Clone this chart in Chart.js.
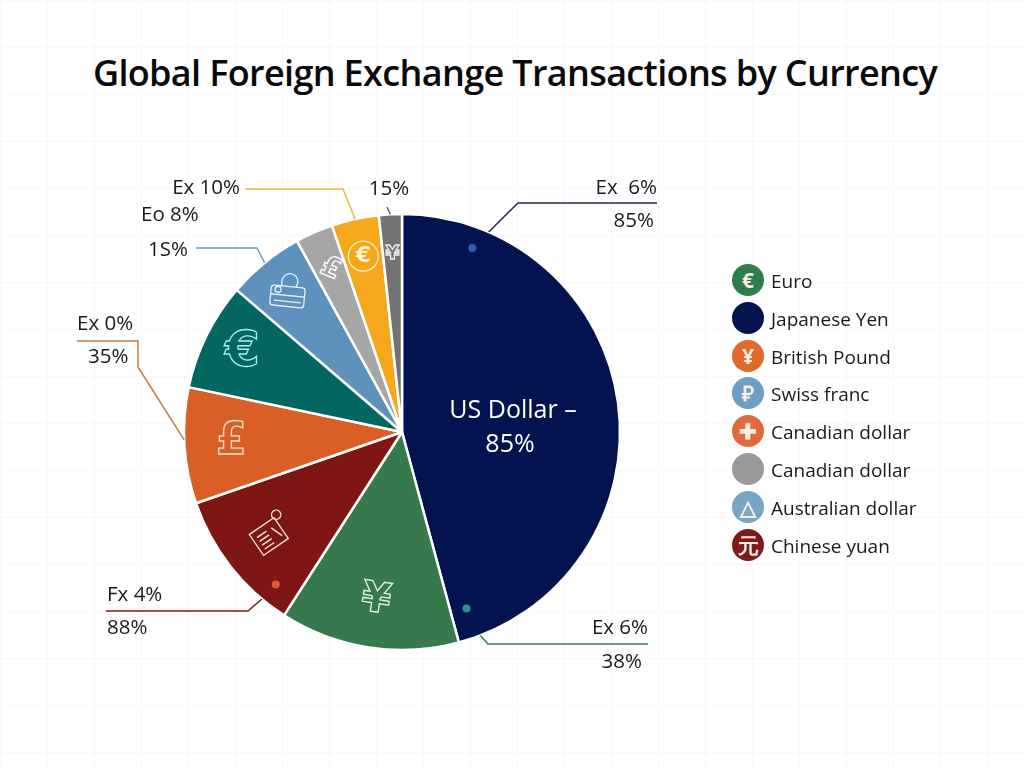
<!DOCTYPE html>
<html>
<head>
<meta charset="utf-8">
<title>Global Foreign Exchange Transactions by Currency</title>
<script src="https://cdn.jsdelivr.net/npm/chart.js@4"></script>
<style>
    html, body { margin: 0; padding: 0; width: 1024px; height: 768px; overflow: hidden; }
    body {
        background-color: #fff;
        background-image: linear-gradient(#f8f8f8 1px, transparent 1px), linear-gradient(90deg, #f8f8f8 1px, transparent 1px);
        background-size: 47px 47px;
        font-family: "Open Sans", sans-serif;
    }
    #chart { position: absolute; left: 0; top: 0; }
    h1 {
        position: absolute; left: 0; top: 48px; width: 1030px; margin: 0;
        text-align: center; font-size: 36px; line-height: 50px; font-weight: 600;
        letter-spacing: -0.65px; color: #0a0a0a;
    }
    #legend { position: absolute; left: 732px; top: 264px; margin: 0; padding: 0; list-style: none; }
    #legend li { position: relative; height: 37.8px; line-height: 34px; padding-left: 39px; font-size: 19px; color: #1a1a1a; white-space: nowrap; }
    #legend .dot {
        position: absolute; left: 0; top: 0; width: 32px; height: 32px; border-radius: 50%;
        text-align: center; color: #fbeee0; font-size: 21px; line-height: 32px; font-weight: 700;
    }
</style>
</head>
<body>
<h1>Global Foreign Exchange Transactions by Currency</h1>
<canvas id="chart" width="1024" height="768"></canvas>
<ul id="legend"></ul>
<script>
const sliceNames = ['US Dollar', 'Euro', 'Chinese yuan', 'British Pound', 'Japanese Yen', 'Swiss franc', 'Canadian dollar', 'Australian dollar', 'Other'];
const sliceValues = [45.8, 13.3, 10.6, 8.6, 8.0, 5.7, 2.8, 3.5, 1.7];
const sliceColors = ['#03134f', '#37794c', '#7e1713', '#d95f26', '#046660', '#5e92bd', '#a6a6a6', '#f5a81c', '#737373'];

const legendNames = ['Euro', 'Japanese Yen', 'British Pound', 'Swiss franc', 'Canadian dollar', 'Canadian dollar', 'Australian dollar', 'Chinese yuan'];
const legendColors = ['#2f7d4f', '#03134f', '#df6a2d', '#6b9fc4', '#df6a3c', '#9a9a9a', '#76a5c6', '#7e1a1a'];
const legendGlyphs = ['€', '', '¥', '₽', '✚', '', '△', '元'];

// slice: which arc the leader leaves from, at: how far through that arc
const callouts = [
    { slice: 0, at: 0.142, color: '#1f2a4a', path: [[518, 203], [657, 203]], texts: [['Ex  6%', 657, 188, 'right'], ['85%', 654, 221, 'right']] },
    { slice: 0, at: 0.964, color: '#3a7d4f', path: [[488, 644], [648, 644]], texts: [['Ex 6%', 648, 628, 'right'], ['38%', 642, 662, 'right']] },
    { slice: 2, at: 0.19, color: '#7c1a14', path: [[248, 611], [106, 611]], texts: [['Fx 4%', 107, 595, 'left'], ['88%', 107, 628, 'left']] },
    { slice: 3, at: 0.55, color: '#c07a4a', path: [[138, 367], [138, 341], [77, 341]], texts: [['Ex 0%', 77, 324, 'left'], ['35%', 88, 357, 'left']] },
    { slice: 5, at: 0.5, color: '#6b9bbd', path: [[257, 248], [196, 248]], texts: [['1S%', 148, 250, 'left']] },
    { slice: 6, at: 0, color: null, path: [], texts: [['Eo 8%', 141, 215, 'left']] },
    { slice: 7, at: 0.5, color: '#f0b840', path: [[343, 189], [245, 189]], texts: [['Ex 10%', 240, 188, 'right']] },
    { slice: 8, at: 0.5, color: '#666666', path: [[387, 207]], texts: [['15%', 389, 189, 'center']] }
];

const markerDots = [
    { slice: 0, at: 0.127, dist: 197, color: '#2e5cae' },
    { slice: 0, at: 0.97, dist: 188, color: '#2f8f8f' },
    { slice: 2, at: 0.18, dist: 198, color: '#e0592a' }
];

const sliceIcons = [
    { slice: 1, dist: 171, glyph: '¥', size: 42, color: '#dff0e2', rot: 0.15 },
    { slice: 2, dist: 167, draw: 'scroll', color: '#f5e3da', rot: -0.6 },
    { slice: 3, dist: 171, glyph: '£', size: 44, color: '#f7e3c8', rot: 0 },
    { slice: 4, dist: 178, glyph: '€', size: 50, color: '#a8ebe4', rot: 0 },
    { slice: 5, dist: 181, draw: 'bag', color: '#e8f1f8', rot: 0.1 },
    { slice: 6, dist: 178, glyph: '£', size: 28, color: '#ffffff', rot: 0.4 },
    { slice: 7, dist: 180, glyph: '€', size: 22, color: '#fff2d0', rot: 0, ring: 15, solid: true },
    { slice: 8, dist: 178, glyph: '¥', size: 20, color: '#eeeeee', rot: 0 }
];

function arcPoint(arc, frac, dist) {
    const a = arc.startAngle + frac * (arc.endAngle - arc.startAngle);
    return [arc.x + dist * Math.cos(a), arc.y + dist * Math.sin(a)];
}

function drawScroll(ctx) {
    ctx.scale(1.15, 1.15);
    ctx.lineWidth = 1.2;
    ctx.strokeRect(-15, -11, 26, 22);
    for (let i = -5; i <= 7; i += 4) {
        ctx.beginPath();
        ctx.moveTo(-11, i);
        ctx.lineTo(-1, i);
        ctx.stroke();
    }
    ctx.beginPath();
    ctx.arc(14, -12, 4, 0, Math.PI * 2);
    ctx.moveTo(4, -5);
    ctx.lineTo(8, 6);
    ctx.stroke();
}

function drawBag(ctx) {
    ctx.beginPath();
    ctx.roundRect(-17, -5, 34, 20, 3);
    ctx.moveTo(-17, 4);
    ctx.lineTo(17, 4);
    ctx.moveTo(-13, 10);
    ctx.lineTo(14, 10);
    ctx.moveTo(-7, -5);
    ctx.arc(1, -10, 8, Math.PI, Math.PI * 2.2);
    ctx.stroke();
    ctx.beginPath();
    ctx.arc(-10, -1, 3, 0, Math.PI * 2);
    ctx.stroke();
}

const overlayPlugin = {
    id: 'overlay',
    afterDatasetsDraw(chart) {
        const ctx = chart.ctx;
        const arcs = chart.getDatasetMeta(0).data;
        ctx.save();

        sliceIcons.forEach(icon => {
            const [x, y] = arcPoint(arcs[icon.slice], 0.5, icon.dist);
            ctx.save();
            ctx.translate(x, y);
            ctx.rotate(icon.rot);
            ctx.strokeStyle = icon.color;
            ctx.fillStyle = icon.color;
            ctx.lineWidth = 1.3;
            if (icon.ring) {
                ctx.beginPath();
                ctx.arc(0, 0, icon.ring, 0, Math.PI * 2);
                ctx.stroke();
            }
            if (icon.glyph) {
                ctx.font = 'bold ' + icon.size + 'px "DejaVu Sans"';
                ctx.textAlign = 'center';
                ctx.textBaseline = 'middle';
                if (icon.solid) ctx.fillText(icon.glyph, 0, 0);
                else ctx.strokeText(icon.glyph, 0, 0);
            } else if (icon.draw === 'scroll') {
                drawScroll(ctx);
            } else {
                drawBag(ctx);
            }
            ctx.restore();
        });

        markerDots.forEach(dot => {
            const [x, y] = arcPoint(arcs[dot.slice], dot.at, dot.dist);
            ctx.fillStyle = dot.color;
            ctx.beginPath();
            ctx.arc(x, y, 4, 0, Math.PI * 2);
            ctx.fill();
        });

        ctx.font = '20.5px "Open Sans"';
        ctx.textBaseline = 'middle';
        callouts.forEach(c => {
            if (c.color) {
                const [sx, sy] = arcPoint(arcs[c.slice], c.at, arcs[c.slice].outerRadius);
                ctx.strokeStyle = c.color;
                ctx.lineWidth = 1.5;
                ctx.beginPath();
                ctx.moveTo(sx, sy);
                c.path.forEach(p => ctx.lineTo(p[0], p[1]));
                ctx.stroke();
            }
            c.texts.forEach(t => {
                ctx.fillStyle = '#1a1a1a';
                ctx.textAlign = t[3];
                ctx.fillText(t[0], t[1], t[2]);
            });
        });

        ctx.fillStyle = '#ffffff';
        ctx.textAlign = 'center';
        ctx.font = '25px "Open Sans"';
        ctx.fillText('US Dollar –', 513, 411);
        ctx.fillText('85%', 510, 445);
        ctx.restore();
    }
};

legendNames.forEach((name, i) => {
    const li = document.createElement('li');
    const dot = document.createElement('span');
    dot.className = 'dot';
    dot.style.backgroundColor = legendColors[i];
    dot.textContent = legendGlyphs[i];
    li.appendChild(dot);
    li.appendChild(document.createTextNode(name));
    document.getElementById('legend').appendChild(li);
});

new Chart(document.getElementById('chart').getContext('2d'), {
    type: 'pie',
    data: {
        labels: sliceNames,
        datasets: [{
            data: sliceValues,
            backgroundColor: sliceColors,
            borderColor: '#ffffff',
            borderWidth: 2.5,
            hoverOffset: 0
        }]
    },
    options: {
        responsive: false,
        animation: false,
        radius: 218,
        layout: { padding: { left: 175, right: 395, top: 205, bottom: 109 } },
        plugins: {
            legend: { display: false },
            title: { display: false },
            tooltip: { enabled: false }
        }
    },
    plugins: [overlayPlugin]
});
</script>
</body>
</html>
